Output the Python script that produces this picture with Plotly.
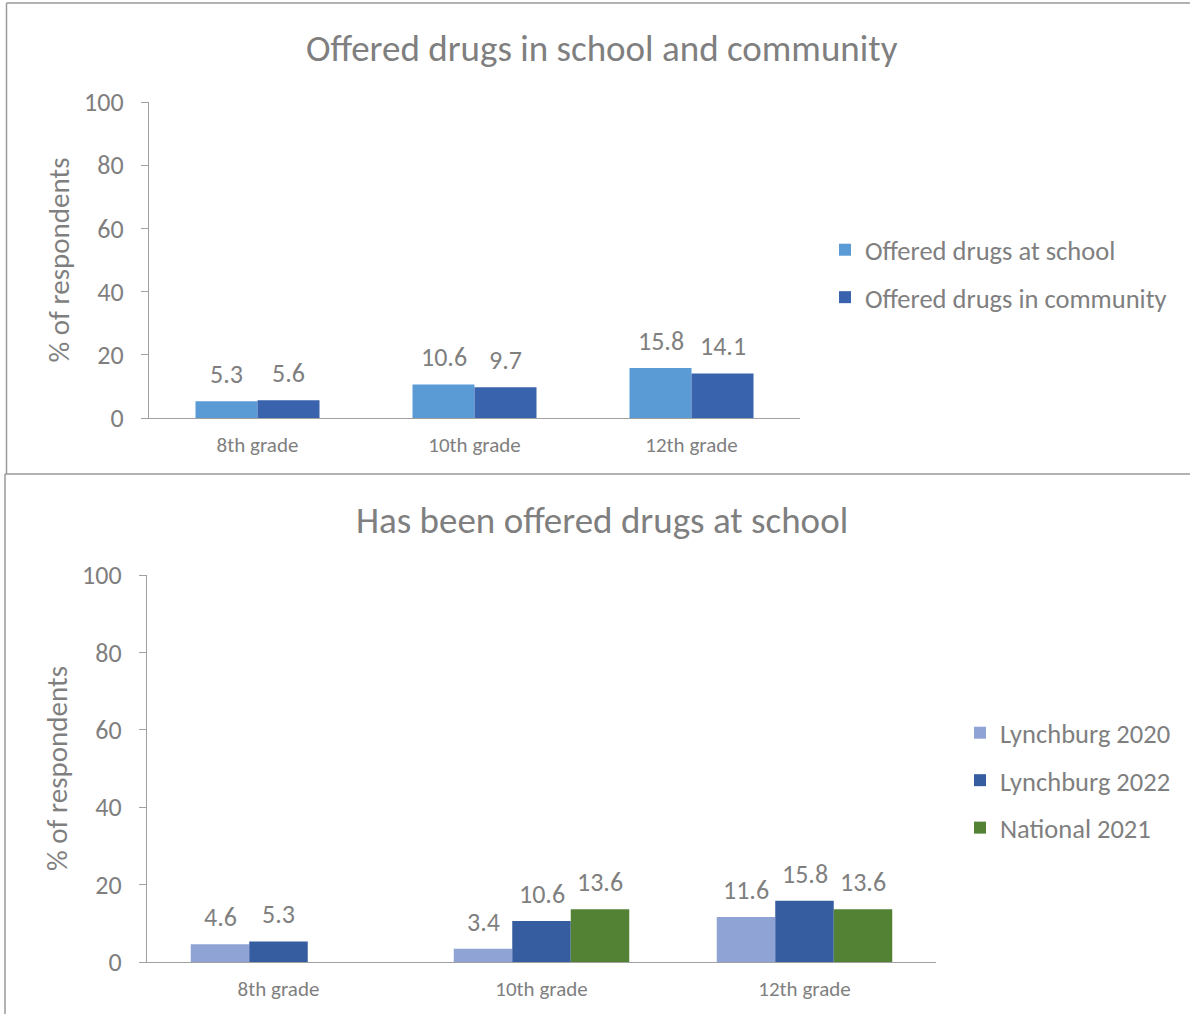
import plotly.graph_objects as go

# ---------------- data ----------------
grades = ["8th grade", "10th grade", "12th grade"]
school = [5.3, 10.6, 15.8]
community = [5.6, 9.7, 14.1]
lyn2020 = [4.6, 3.4, 11.6]
lyn2022 = [5.3, 10.6, 15.8]
national = [None, 13.6, 13.6]
y_ticks = [0, 20, 40, 60, 80, 100]

# ---------------- styling ----------------
W, H = 1190, 1014
FONT = "Carlito, Calibri, Lato, sans-serif"
TXT = "#7F7F7F"
AX = "#A0A0A0"

def dx(a, b):
    return [a / W, b / W]

def dy(top, bottom):
    return [1 - bottom / H, 1 - top / H]

top_x_px, top_y_px = (149, 800), (102, 418)
bot_x_px, bot_y_px = (147, 936), (575, 962)

fig = go.Figure()

top_series = [
    ("Offered drugs at school", school, "#5B9BD5"),
    ("Offered drugs in community", community, "#3A63AD"),
]
bot_series = [
    ("Lynchburg 2020", lyn2020, "#8FA4D5"),
    ("Lynchburg 2022", lyn2022, "#365DA0"),
    ("National 2021", national, "#548235"),
]

annotations = []

def add_group(series, xa, ya, legend, bar_w, px_per_cat):
    n = len(series)
    start = -n * bar_w / 2
    for k, (name, vals, col) in enumerate(series):
        off = start + k * bar_w
        fig.add_trace(go.Bar(
            x=grades, y=vals, name=name, marker=dict(color=col, line=dict(width=0)),
            width=bar_w, offset=off, xaxis=xa, yaxis=ya, legend=legend,
            legendgroup=name, hoverinfo="skip",
        ))
        shift = (off + bar_w / 2) * px_per_cat
        for g, v in zip(grades, vals):
            if v is None:
                continue
            annotations.append(dict(
                x=g, y=v, xref=xa, yref=ya, text=f"{v:.1f}", showarrow=False,
                xshift=shift, yshift=27, yanchor="middle",
                font=dict(family=FONT, size=26, color=TXT),
            ))

top_cat_px = (top_x_px[1] - top_x_px[0]) / 3
bot_cat_px = (bot_x_px[1] - bot_x_px[0]) / 3
add_group(top_series, "x", "y", "legend", 62 / top_cat_px, top_cat_px)
add_group(bot_series, "x2", "y2", "legend2", 58.5 / bot_cat_px, bot_cat_px)

axis_common_x = dict(
    type="category", showline=True, linecolor=AX, linewidth=1.3, ticks="",
    showgrid=False, zeroline=False, tickfont=dict(family=FONT, size=21, color=TXT),
    ticklabelstandoff=8,
)
axis_common_y = dict(
    range=[0, 100], tickvals=y_ticks, showline=True, linecolor=AX, linewidth=1.3,
    ticks="outside", ticklen=7, tickcolor=AX, tickwidth=1.3, showgrid=False,
    zeroline=False, tickfont=dict(family=FONT, size=26, color=TXT),
    ticklabelstandoff=12,
    title=dict(text="% of respondents", font=dict(family=FONT, size=29, color=TXT), standoff=5),
)

fig.update_layout(
    width=W, height=H, margin=dict(l=0, r=0, t=0, b=0, autoexpand=False),
    paper_bgcolor="white", plot_bgcolor="white", barmode="overlay",
    font=dict(family=FONT, color=TXT),
    xaxis=dict(domain=dx(*top_x_px), anchor="y", **axis_common_x),
    yaxis=dict(domain=dy(*top_y_px), anchor="x", **axis_common_y),
    xaxis2=dict(domain=dx(*bot_x_px), anchor="y2", **axis_common_x),
    yaxis2=dict(domain=dy(*bot_y_px), anchor="x2", **axis_common_y),
    legend=dict(x=825 / W, y=1 - 226 / H, xanchor="left", yanchor="top",
                font=dict(family=FONT, size=26.5, color=TXT), tracegroupgap=10,
                bgcolor="rgba(0,0,0,0)"),
    legend2=dict(x=960 / W, y=1 - 709 / H, xanchor="left", yanchor="top",
                 font=dict(family=FONT, size=26.5, color=TXT), tracegroupgap=10,
                 bgcolor="rgba(0,0,0,0)"),
    showlegend=True,
)

annotations.append(dict(x=602 / W, y=1 - 48 / H, xref="paper", yref="paper",
                        text="Offered drugs in school and community", showarrow=False,
                        xanchor="center", yanchor="middle",
                        font=dict(family=FONT, size=37, color=TXT)))
annotations.append(dict(x=602 / W, y=1 - 520 / H, xref="paper", yref="paper",
                        text="Has been offered drugs at school", showarrow=False,
                        xanchor="center", yanchor="middle",
                        font=dict(family=FONT, size=37, color=TXT)))
fig.update_layout(annotations=annotations)

# chart frames
frame = dict(color="#9A9A9A", width=1.5)
shapes = [
    dict(type="line", xref="paper", yref="paper", x0=6.5 / W, x1=1, y0=1 - 3 / H, y1=1 - 3 / H, line=frame),
    dict(type="line", xref="paper", yref="paper", x0=6.5 / W, x1=6.5 / W, y0=1 - 3 / H, y1=1 - 474 / H, line=frame),
    dict(type="line", xref="paper", yref="paper", x0=5 / W, x1=1, y0=1 - 474 / H, y1=1 - 474 / H, line=frame),
    dict(type="line", xref="paper", yref="paper", x0=5 / W, x1=5 / W, y0=1 - 474 / H, y1=0, line=frame),
]
fig.update_layout(shapes=shapes)

fig.write_html("out.html", config={"displayModeBar": False},
               post_script="document.body.style.margin='0';")
